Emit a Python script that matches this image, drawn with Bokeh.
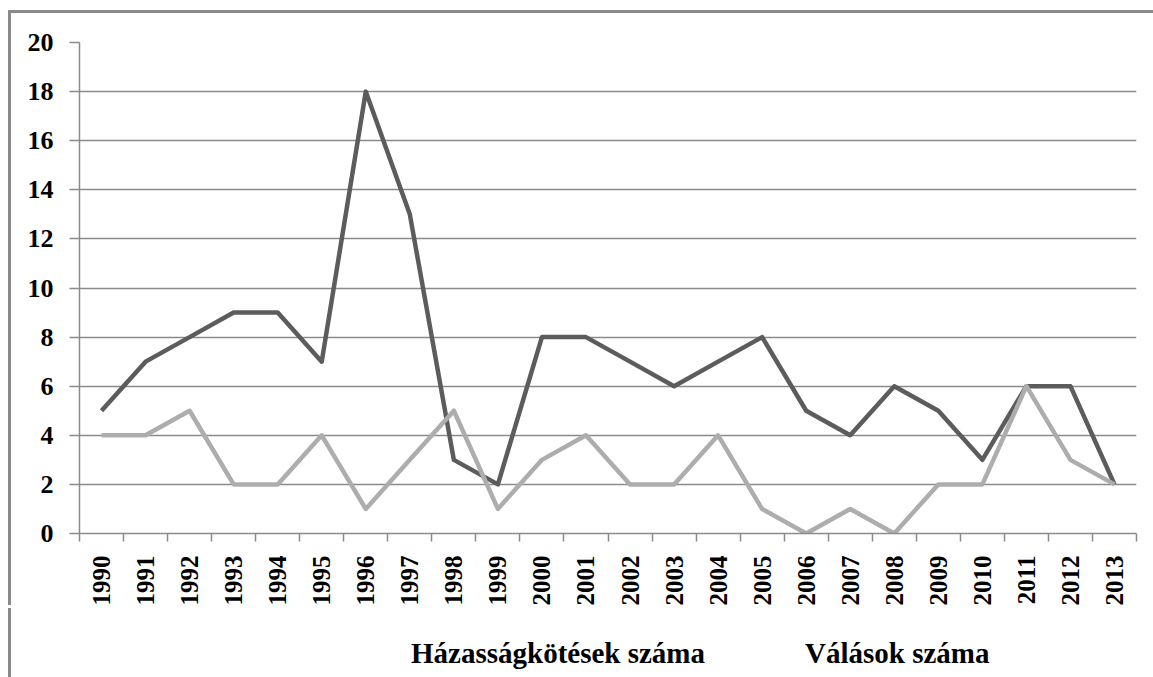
import math
from bokeh.plotting import figure
from bokeh.layouts import column
from bokeh.models import FixedTicker, Legend, LegendItem, Range1d
from bokeh.embed import file_html
from bokeh.resources import INLINE

# ---- data ----
years = ["1990", "1991", "1992", "1993", "1994", "1995", "1996", "1997",
         "1998", "1999", "2000", "2001", "2002", "2003", "2004", "2005",
         "2006", "2007", "2008", "2009", "2010", "2011", "2012", "2013"]
marriages = [5, 7, 8, 9, 9, 7, 18, 13, 3, 2, 8, 8, 7, 6, 7, 8, 5, 4, 6, 5, 3, 6, 6, 2]
divorces = [4, 4, 5, 2, 2, 4, 1, 3, 5, 1, 3, 4, 2, 2, 4, 1, 0, 1, 0, 2, 2, 6, 3, 2]
y_ticks = [0, 2, 4, 6, 8, 10, 12, 14, 16, 18, 20]
series_names = ["Házasságkötések száma", "Válások száma"]

FONT = "Liberation Serif"
GRID = "#8a8a8a"
DARK = "#5c5c5c"
LIGHT = "#adadad"

xs = list(range(len(years)))

bg_top = ("linear-gradient(#8a8a8a,#8a8a8a) 8px 10px / 3px 595px no-repeat, "
          "linear-gradient(#8a8a8a,#8a8a8a) 8px 10px / 1145px 3px no-repeat, white")
bg_bottom = "linear-gradient(#8a8a8a,#8a8a8a) 8px 0px / 3px 72px no-repeat, white"

p = figure(width=1153, height=605, frame_width=1057, frame_height=491,
           output_backend="svg", toolbar_location=None,
           x_range=Range1d(-0.5, len(years) - 0.5), y_range=Range1d(0, 20),
           min_border_left=79, min_border_right=17, min_border_top=42,
           min_border_bottom=72, styles={"background": bg_top})
p.outline_line_color = None
p.background_fill_color = "white"
p.border_fill_color = None

r1 = p.line(xs, marriages, line_color=DARK, line_width=4.5, line_join="round")
r2 = p.line(xs, divorces, line_color=LIGHT, line_width=4.5, line_join="round")

# y axis
p.yaxis.ticker = FixedTicker(ticks=y_ticks)
p.yaxis.axis_line_color = GRID
p.yaxis.axis_line_width = 1.5
p.yaxis.major_tick_line_color = GRID
p.yaxis.major_tick_line_width = 1.5
p.yaxis.major_tick_out = 10
p.yaxis.major_tick_in = 0
p.yaxis.minor_tick_line_color = None
p.yaxis.major_label_standoff = 16
p.yaxis.major_label_text_font = FONT
p.yaxis.major_label_text_font_style = "bold"
p.yaxis.major_label_text_font_size = "26px"
p.yaxis.major_label_text_color = "black"

# x axis
p.xaxis.ticker = FixedTicker(ticks=xs, minor_ticks=[i - 0.5 for i in range(len(years) + 1)])
p.xaxis.major_label_overrides = {i: years[i] for i in xs}
p.xaxis.axis_line_color = GRID
p.xaxis.axis_line_width = 1.5
p.xaxis.major_tick_line_color = None
p.xaxis.minor_tick_line_color = GRID
p.xaxis.minor_tick_line_width = 1.5
p.xaxis.minor_tick_out = 8
p.xaxis.minor_tick_in = 0
p.xaxis.major_label_orientation = math.pi / 2
p.xaxis.major_label_standoff = 14
p.xaxis.major_label_text_font = FONT
p.xaxis.major_label_text_font_style = "bold"
p.xaxis.major_label_text_font_size = "25px"
p.xaxis.major_label_text_color = "black"

p.xgrid.grid_line_color = None
p.ygrid.grid_line_color = GRID
p.ygrid.grid_line_width = 1.5

# ---- legend strip (separate small figure below the chart) ----
lg = figure(width=1153, height=72, output_backend="svg", toolbar_location=None,
            x_axis_location=None, y_axis_location=None,
            x_range=Range1d(0, 1), y_range=Range1d(0, 1),
            min_border=0, min_border_left=0, min_border_right=0,
            min_border_top=0, min_border_bottom=0,
            styles={"background": bg_bottom})
lg.outline_line_color = None
lg.background_fill_color = None
lg.border_fill_color = None
lg.xgrid.grid_line_color = None
lg.ygrid.grid_line_color = None
l1 = lg.line([], [], line_color=DARK, line_width=4.5)
l2 = lg.line([], [], line_color=LIGHT, line_width=4.5)

legend = Legend(items=[LegendItem(label=series_names[0], renderers=[l1]),
                       LegendItem(label=series_names[1], renderers=[l2])],
                orientation="horizontal", location=(277, 10),
                label_text_font=FONT, label_text_font_style="bold",
                label_text_font_size="29px", label_text_color="black",
                glyph_width=52, glyph_height=20, label_standoff=3, spacing=45,
                border_line_color=None, background_fill_alpha=0,
                margin=0, padding=6)
lg.add_layout(legend)

layout = column(p, lg, spacing=0)
open("out.html", "w").write(file_html(layout, INLINE))
